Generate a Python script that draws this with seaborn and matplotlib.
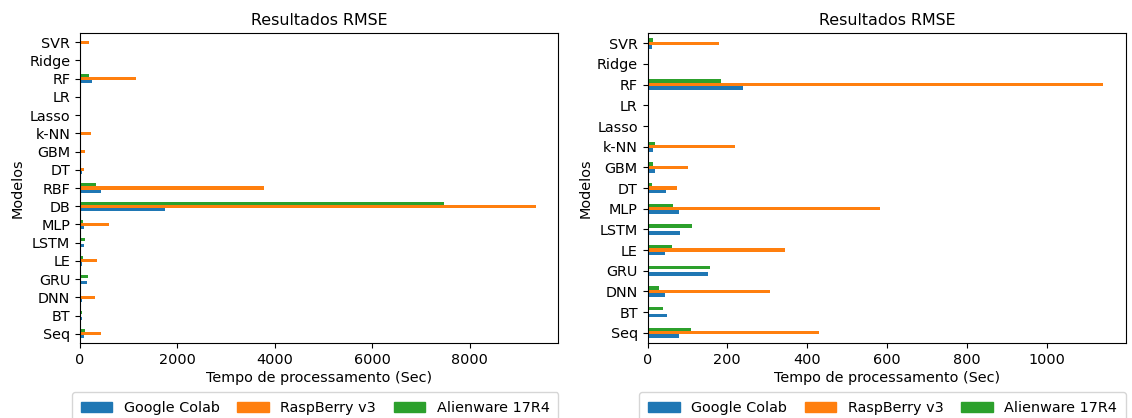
import numpy as np
import pandas as pd
import matplotlib
matplotlib.use("Agg")
import matplotlib.pyplot as plt
import seaborn as sns

plataformas = ["Google Colab", "RaspBerry v3", "Alienware 17R4"]

# painel da esquerda (todos os modelos)
modelos_todos = ["SVR", "Ridge", "RF", "LR", "Lasso", "k-NN", "GBM", "DT", "RBF", "DB",
                 "MLP", "LSTM", "LE", "GRU", "DNN", "BT", "Seq"]
colab_todos = [12, 1, 240, 1, 1, 14, 18, 47, 430, 1742, 78, 82, 43, 152, 45, 50, 78]
rasp_todos = [178, 1, 1145, 1, 3, 222, 102, 75, 3770, 9350, 590, np.nan, 344, np.nan, 306, np.nan, 429]
alien_todos = [14, 1, 183, 1, 1, 18, 14, 12, 328, 7459, 65, 112, 62, 157, 30, 38, 108]

# painel da direita (sem RBF e DB)
modelos = ["SVR", "Ridge", "RF", "LR", "Lasso", "k-NN", "GBM", "DT",
           "MLP", "LSTM", "LE", "GRU", "DNN", "BT", "Seq"]
colab = [12, 1, 240, 1, 1, 14, 18, 47, 78, 82, 43, 152, 45, 50, 78]
rasp = [178, 1, 1142, 1, 3, 220, 102, 75, 582, np.nan, 344, np.nan, 306, np.nan, 429]
alien = [14, 1, 183, 1, 1, 18, 14, 12, 65, 112, 62, 157, 30, 38, 108]


def to_long(nomes, a, b, c):
    df = pd.DataFrame({"Modelo": nomes, plataformas[0]: a, plataformas[1]: b, plataformas[2]: c})
    return df.melt(id_vars="Modelo", var_name="Plataforma", value_name="Tempo")


cores = dict(zip(plataformas, ["#1f77b4", "#ff7f0e", "#2ca02c"]))

fig, axes = plt.subplots(1, 2, figsize=(11.32, 4.18), dpi=100)
fig.subplots_adjust(left=80 / 1132, right=1126 / 1132, top=1 - 33 / 418,
                    bottom=1 - 343 / 418, wspace=0.186)

paineis = [(modelos_todos, colab_todos, rasp_todos, alien_todos),
           (modelos, colab, rasp, alien)]

for ax, (nomes, a, b, c) in zip(axes, paineis):
    df = to_long(nomes, a, b, c)
    sns.barplot(data=df, x="Tempo", y="Modelo", hue="Plataforma", order=nomes[::-1],
                hue_order=plataformas, palette=cores, orient="h", width=0.5,
                saturation=1, ax=ax)
    ax.invert_yaxis()
    ax.set_title("Resultados RMSE", fontsize=11.4)
    ax.set_xlabel("Tempo de processamento (Sec)", fontsize=10.4, labelpad=3)
    ax.set_ylabel("Modelos", fontsize=10.4, labelpad=3)
    ax.tick_params(labelsize=10.4)
    ax.get_legend().remove()
    handles = [plt.Rectangle((0, 0), 1, 1, color=cores[p]) for p in plataformas]
    ax.legend(handles, plataformas, ncol=3, loc="upper left", mode="expand",
              bbox_to_anchor=(-0.017, -0.158, 1.017, 0), borderaxespad=0,
              fontsize=10.4, handlelength=2.2, borderpad=0.6)

fig.savefig("out.png", dpi=100)
